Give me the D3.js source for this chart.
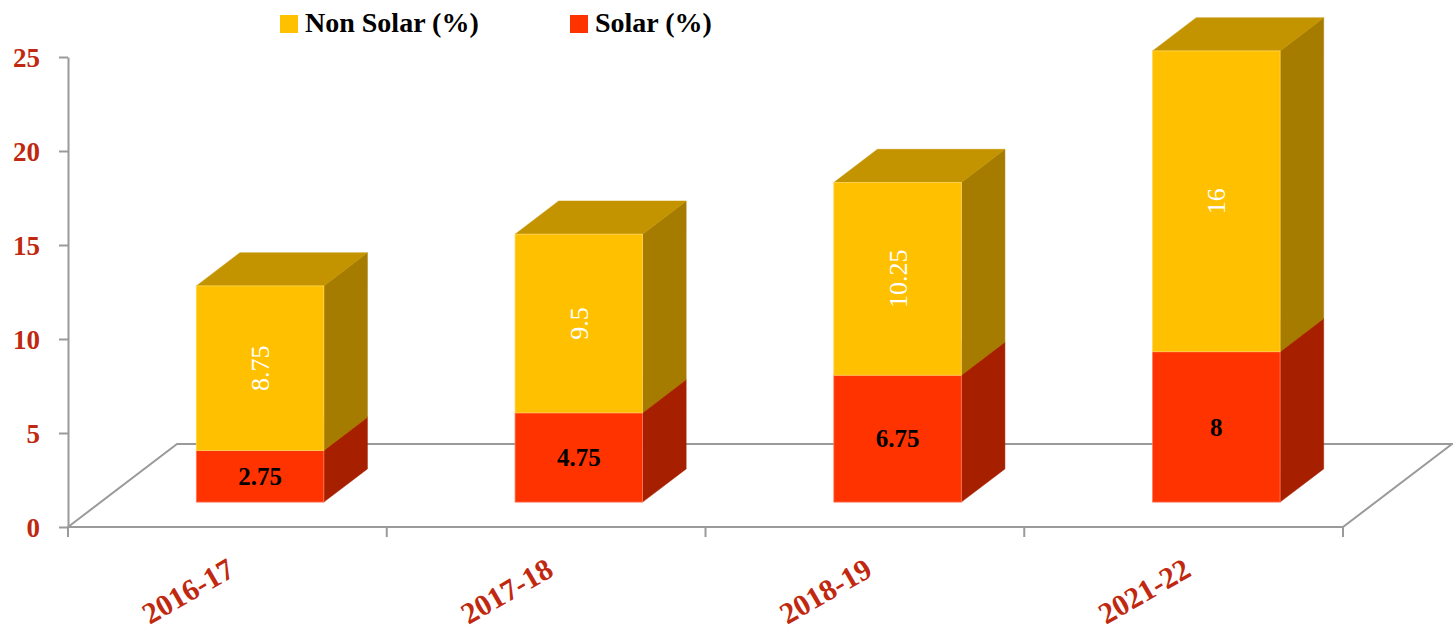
<!DOCTYPE html>
<html>
<head>
<meta charset="utf-8">
<script src="https://cdn.jsdelivr.net/npm/d3@7"></script>
<style>
  body { margin: 0; background: #fff; }
  svg { display: block; }
  text { font-family: "Liberation Serif", "Times New Roman", serif; }
</style>
</head>
<body>
<div id="chart"></div>
<script>
// values
var years = ["2016-17", "2017-18", "2018-19", "2021-22"];
var solar = [2.75, 4.75, 6.75, 8];
var nonSolar = [8.75, 9.5, 10.25, 16];
var yTicks = [0, 5, 10, 15, 20, 25];
var seriesKeys = ["solar", "nonSolar"];
var seriesNames = {nonSolar: "Non Solar (%)", solar: "Solar (%)"};

var width = 1453, height = 635;

var svg = d3.select("#chart").append("svg")
    .attr("width", width)
    .attr("height", height);

var labelRed = "#c0290f",
    gridGrey = "#9a9a9a";

var colors = {
  solar:    {front: "#ff3300", side: "#a62000", top: "#c42800", edge: "#ff7a5c"},
  nonSolar: {front: "#ffc000", side: "#a67c00", top: "#c49400", edge: "#ffd659"}
};

// plot frame (front plane) and the floor depth vector
var x = d3.scaleBand().domain(years).range([68, 1343]).paddingInner(0.6).paddingOuter(0.3),
    y = d3.scaleLinear().domain([0, 25]).range([527, 57]);

var depth = {dx: 109, dy: -83};
var barFront = 0.3, barBack = 0.7;

var rows = years.map(function(yr, i) {
  return {year: yr, solar: solar[i], nonSolar: nonSolar[i]};
});
var stacked = d3.stack().keys(seriesKeys)(rows);

// floor
var x0 = x.range()[0], x1 = x.range()[1], y0 = y(0);
var floor = svg.append("g").attr("class", "floor")
    .attr("fill", "none").attr("stroke", gridGrey).attr("stroke-width", 2);

floor.append("path")
    .attr("d", "M" + x0 + "," + y0 +
               "L" + (x0 + depth.dx) + "," + (y0 + depth.dy) +
               "L" + (x1 + depth.dx) + "," + (y0 + depth.dy) +
               "L" + x1 + "," + y0 + "Z");

// category ticks on the front edge, at band boundaries
var bounds = years.map(function(d) { return x(d) - x.step() * x.paddingOuter(); });
bounds.push(x1);
floor.selectAll(".xtick")
  .data(bounds)
  .enter().append("line")
    .attr("class", "xtick")
    .attr("x1", function(d) { return d; })
    .attr("x2", function(d) { return d; })
    .attr("y1", y0)
    .attr("y2", y0 + 10);

// y axis
var yAxis = svg.append("g")
    .attr("transform", "translate(" + x0 + ",0)")
    .call(d3.axisLeft(y).tickValues(yTicks).tickSize(9).tickSizeOuter(0).tickPadding(19));

yAxis.select(".domain").attr("stroke", gridGrey).attr("stroke-width", 2);
yAxis.selectAll(".tick line").attr("stroke", gridGrey).attr("stroke-width", 2);
yAxis.selectAll(".tick text")
    .attr("fill", labelRed)
    .attr("dy", "0.35em")
    .style("font-size", "27px")
    .style("font-weight", "bold");

// 3d bars
var fdx = depth.dx * barFront, fdy = depth.dy * barFront,
    bdx = depth.dx * (barBack - barFront), bdy = depth.dy * (barBack - barFront);

var bars = svg.append("g").attr("class", "bars");

stacked.forEach(function(series) {
  var c = colors[series.key];
  series.forEach(function(d) {
    var left = x(d.data.year) + fdx,
        right = left + x.bandwidth(),
        top = y(d[1]) + fdy,
        bottom = y(d[0]) + fdy;

    var g = bars.append("g");

    g.append("path")
        .attr("d", "M" + right + "," + top +
                   "L" + (right + bdx) + "," + (top + bdy) +
                   "L" + (right + bdx) + "," + (bottom + bdy) +
                   "L" + right + "," + bottom + "Z")
        .attr("fill", c.side)
        .attr("stroke", c.side).attr("stroke-width", 0.5);

    g.append("path")
        .attr("d", "M" + left + "," + top +
                   "L" + (left + bdx) + "," + (top + bdy) +
                   "L" + (right + bdx) + "," + (top + bdy) +
                   "L" + right + "," + top + "Z")
        .attr("fill", c.top)
        .attr("stroke", c.top).attr("stroke-width", 0.5);

    g.append("rect")
        .attr("x", left)
        .attr("y", top)
        .attr("width", x.bandwidth())
        .attr("height", bottom - top)
        .attr("fill", c.front)
        .attr("stroke", c.edge).attr("stroke-width", 0.8);
  });
});

// data labels
stacked.forEach(function(series) {
  series.forEach(function(d) {
    var cx = x(d.data.year) + fdx + x.bandwidth() / 2,
        cy = (y(d[0]) + y(d[1])) / 2 + fdy;
    var val = d.data[series.key];

    if (series.key === "solar") {
      svg.append("text")
          .attr("x", cx)
          .attr("y", cy)
          .attr("dy", "0.35em")
          .attr("text-anchor", "middle")
          .attr("fill", "#000")
          .style("font-size", "25px")
          .style("font-weight", "bold")
          .text(val);
    } else {
      svg.append("text")
          .attr("transform", "translate(" + cx + "," + cy + ") rotate(-90)")
          .attr("dy", "0.35em")
          .attr("text-anchor", "middle")
          .attr("fill", "#fff")
          .style("font-size", "26px")
          .text(val);
    }
  });
});

// category labels
svg.append("g").selectAll("text")
  .data(years)
  .enter().append("text")
    .attr("transform", function(d) {
      return "translate(" + (x(d) + x.bandwidth() / 2 + 9) + "," + 575 + ") rotate(-30)";
    })
    .attr("text-anchor", "end")
    .attr("fill", labelRed)
    .style("font-size", "30px")
    .style("font-weight", "bold")
    .text(function(d) { return d; });

// legend
var legendItems = [
  {key: "nonSolar", x: 280, tx: 305},
  {key: "solar", x: 570, tx: 595}
];
var legend = svg.append("g").attr("class", "legend");
legendItems.forEach(function(item) {
  legend.append("rect")
      .attr("x", item.x)
      .attr("y", 15)
      .attr("width", 18)
      .attr("height", 18)
      .attr("fill", colors[item.key].front);
  legend.append("text")
      .attr("x", item.tx)
      .attr("y", 32)
      .attr("fill", "#000")
      .style("font-size", "28px")
      .style("font-weight", "bold")
      .text(seriesNames[item.key]);
});
</script>
</body>
</html>
